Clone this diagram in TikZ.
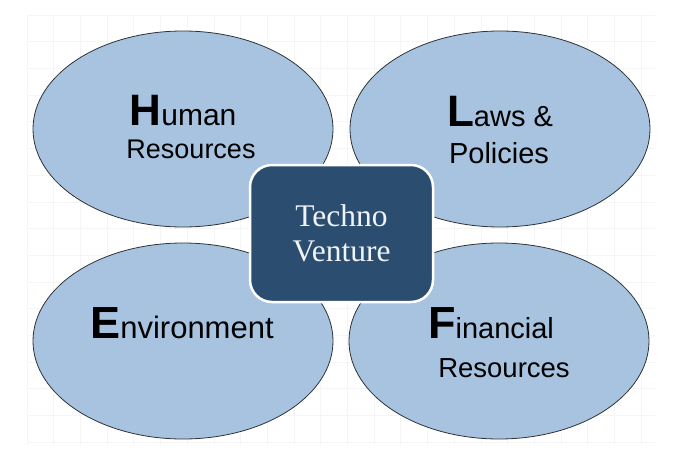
\documentclass[tikz,border=0pt]{standalone}
\usepackage{fontspec}
\usetikzlibrary{shapes.geometric}
\setmainfont{Liberation Sans}
\newfontfamily\serifface{Liberation Serif}
\definecolor{ellfill}{HTML}{A7C3DF}
\definecolor{ellline}{HTML}{2F3338}
\definecolor{boxfill}{HTML}{2B4E70}
\definecolor{boxtext}{HTML}{F0F3F7}
\definecolor{gridcol}{HTML}{F5F5F5}
\begin{document}
\begin{tikzpicture}[x=1pt,y=-1pt,
  ell/.style={ellipse, draw=ellline, line width=0.8pt, fill=ellfill,
    minimum width=300pt, minimum height=196pt, inner sep=0pt},
  lbl/.style={align=center, text=black, inner sep=0pt},
  center box/.style={rectangle, rounded corners=22pt, draw=white, line width=2.5pt,
    fill=boxfill, minimum width=183pt, minimum height=137pt, text=boxtext,
    align=center, font=\serifface\fontsize{31.5}{36}\selectfont}]
\useasboundingbox (0,0) rectangle (681,458);
\fill[white] (0,0) rectangle (681,458);
% faint grid
\foreach \i in {0,...,23} {
  \draw[gridcol, line width=0.6pt] ({43+26.7*(\i-0.6)},15) -- ({43+26.7*(\i-0.6)},445);
}
\foreach \j in {0,...,16} {
  \draw[gridcol, line width=0.6pt] (27,{35+26.7*(\j-0.75)}) -- (655,{35+26.7*(\j-0.75)});
}
\node[ell] (hr) at (183,129) {};
\node[ell] (lp) at (500,129) {};
\node[ell] (en) at (183,341) {};
\node[ell] (fr) at (499,341) {};
\node[lbl, anchor=base] (hrt1) at (183,125) {{\fontsize{44}{44}\selectfont\bfseries H}{\fontsize{30}{30}\selectfont uman}};
\node[lbl, anchor=base] (hrt2) at (191,158) {\fontsize{27}{30}\selectfont Resources};
\node[lbl, anchor=base] (lpt1) at (500,126) {{\fontsize{44}{44}\selectfont\bfseries L}{\fontsize{29}{29}\selectfont aws \&}};
\node[lbl, anchor=base] (lpt2) at (499,163) {\fontsize{29}{30}\selectfont Policies};
\node[lbl, anchor=base] (ent1) at (182,338) {{\fontsize{45}{45}\selectfont\bfseries E}{\fontsize{31}{31}\selectfont nvironment}};
\node[lbl, anchor=base] (frt1) at (491,338) {{\fontsize{45}{45}\selectfont\bfseries F}{\fontsize{29}{29}\selectfont inancial}};
\node[lbl, anchor=base] (frt2) at (504,377) {\fontsize{27.5}{30}\selectfont Resources};
\node[center box] (tv) at (341.5,233.5) {Techno\\[-1pt]Venture};
\end{tikzpicture}
\end{document}
